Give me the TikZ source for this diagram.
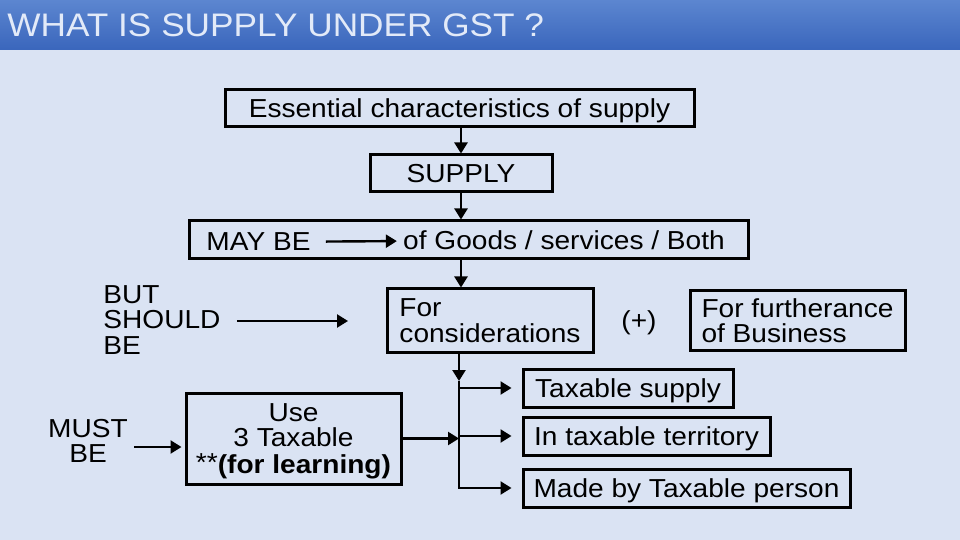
\documentclass[tikz,border=0pt]{standalone}
\usepackage{fontspec}
\setmainfont[FakeStretch=1.08]{Liberation Sans}
\usetikzlibrary{arrows.meta}
\definecolor{slidebg}{HTML}{DAE3F3}
\definecolor{bartop}{HTML}{5C86D0}
\definecolor{barbot}{HTML}{3A66BC}
\definecolor{bartext}{HTML}{E2EAF8}
\begin{document}
\begin{tikzpicture}
  [x=0.5pt,y=-0.5pt,
   every node/.style={font=\fontsize{13pt}{12.8pt}\selectfont,inner sep=0pt},
   box/.style={draw,line width=1.5pt,text depth=0pt},
   arr/.style={line width=1.2pt,-{Triangle[length=5.5pt,width=6.5pt]}}]
  \useasboundingbox (0,0) rectangle (960,540);
  \fill[slidebg] (0,0) rectangle (960,540);
  \shade[top color=bartop,bottom color=barbot] (0,0) rectangle (960,50);
  \node[anchor=west,text=bartext,font=\fontsize{16.3pt}{20pt}\selectfont] (title) at (7,25) {WHAT IS SUPPLY UNDER GST ?};

  \node[box,minimum width=234.5pt,minimum height=18.5pt] (ess) at (459.5,108.5) {Essential characteristics of supply};
  \node[box,minimum width=91pt,minimum height=18.5pt] (supply) at (461,173.5) {SUPPLY};
  \node[box,minimum width=279.5pt,minimum height=19pt] (maybox) at (468.5,240) {};
  \node (maybe) at (258.5,242) {MAY BE};
  \node (goods) at (564,240) {of Goods / services / Both};
  \node[box,align=left,minimum width=103pt,minimum height=31.5pt] (cons) at (490,320.5) {For\\considerations};
  \node (plus) at (639,323) {(+)};
  \node[box,align=left,minimum width=107.5pt,minimum height=29.5pt] (further) at (797.5,320.5) {For furtherance\\of Business};
  \node[align=left,anchor=west] (should) at (103,320) {BUT\\SHOULD\\BE};
  \coordinate (shouldtip) at (348,321);

  \node[box,align=center,minimum width=107.5pt,minimum height=45.5pt] (use) at (293.5,438.5) {Use\\3 Taxable\\[0.5pt]\raisebox{1pt}{**}\textbf{(for learning)}};
  \node[align=center] (must) at (88,441) {MUST\\BE};

  \node[box,minimum width=105pt,minimum height=19pt] (tax) at (628,388) {Taxable supply};
  \node[box,minimum width=123.5pt,minimum height=19pt] (terr) at (646.5,436) {In taxable territory};
  \node[box,minimum width=163.5pt,minimum height=19pt] (person) at (686.5,488) {Made by Taxable person};
  \coordinate (jtop) at (459,381);
  \coordinate (jbot) at (459,489);

  \foreach \from/\to in {ess/supply,supply/maybox,maybox/cons}
    \draw[arr] (\from.south -| supply) -- (\to.north -| supply);
  \draw[arr,shorten <=7.5pt,shorten >=3pt] (maybe) -- (goods);
  \draw[arr,shorten <=8pt] (should.east |- shouldtip) -- (shouldtip);
  \draw[arr,shorten <=3pt,shorten >=1.5pt] ([yshift=-3pt]must.east) -- ([yshift=-3pt]must.east -| use.west);
  \draw[arr] (cons.south -| jtop) -- (jtop);
  \draw[line width=1.2pt] (jtop) -- (jbot);
  \draw[arr] (use.east) -- (use.east -| jtop);
  \foreach \t in {tax,terr,person}
    \draw[arr,shorten >=5pt] (jtop |- \t.west) -- (\t.west);

\end{tikzpicture}
\end{document}
